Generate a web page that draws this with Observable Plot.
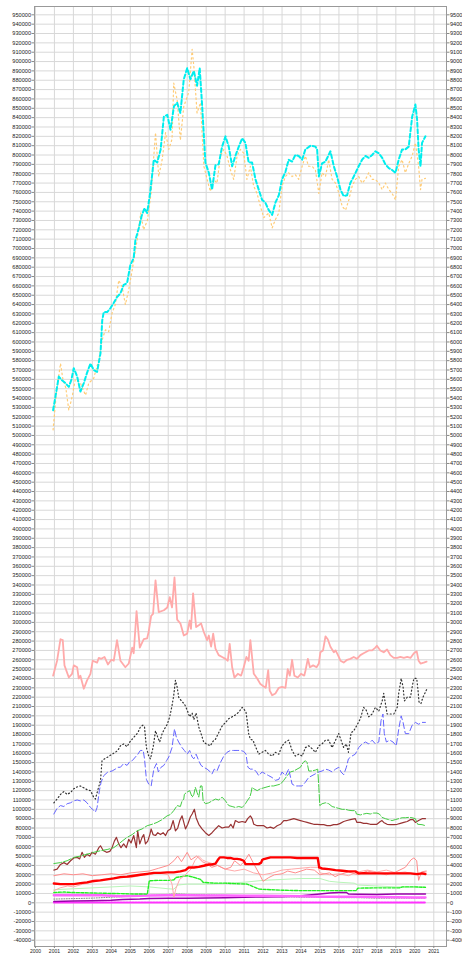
<!DOCTYPE html>
<html><head><meta charset="utf-8">
<script src="https://cdn.jsdelivr.net/npm/d3@7"></script>
<script src="https://cdn.jsdelivr.net/npm/@observablehq/plot@0.6"></script>
<style>html,body{margin:0;padding:0;background:#fff;overflow:hidden;width:462px;height:956px}</style>
</head><body><div id="chart"></div>
<script>
// values in thousands, [year, value]
const cyanSeries = [[2000.93,527],[2001.05,541],[2001.23,563],[2001.4,559],[2001.58,556],[2001.76,552],[2001.9,560],[2002.02,572],[2002.2,563],[2002.37,547],[2002.55,556],[2002.72,567],[2002.9,577],[2003.07,570],[2003.25,568],[2003.43,588],[2003.52,623],[2003.6,632],[2003.78,632],[2003.95,636],[2004.13,642],[2004.3,648],[2004.48,652],[2004.65,661],[2004.83,663],[2005.0,682],[2005.18,690],[2005.27,709],[2005.45,722],[2005.6,735],[2005.75,743],[2005.89,738],[2006.05,760],[2006.24,795],[2006.42,792],[2006.6,806],[2006.77,841],[2006.95,843],[2007.12,827],[2007.3,852],[2007.47,856],[2007.64,845],[2007.82,881],[2008.0,893],[2008.17,881],[2008.35,890],[2008.52,874],[2008.66,893],[2008.79,852],[2008.96,792],[2009.14,781],[2009.31,763],[2009.49,789],[2009.66,790],[2009.84,809],[2010.02,820],[2010.19,809],[2010.37,788],[2010.54,799],[2010.72,809],[2010.9,818],[2011.07,813],[2011.24,792],[2011.42,792],[2011.6,774],[2011.77,763],[2011.95,752],[2012.12,749],[2012.3,741],[2012.48,736],[2012.65,749],[2012.83,757],[2013.0,774],[2013.18,782],[2013.35,795],[2013.53,793],[2013.7,800],[2013.88,799],[2014.06,795],[2014.23,806],[2014.5,810],[2014.76,809],[2014.85,806],[2014.94,777],[2015.11,791],[2015.29,793],[2015.55,804],[2015.73,788],[2015.9,777],[2016.08,763],[2016.25,756],[2016.43,757],[2016.6,770],[2016.78,777],[2017.04,788],[2017.22,795],[2017.4,799],[2017.57,797],[2017.75,800],[2017.92,804],[2018.1,802],[2018.28,797],[2018.45,790],[2018.63,786],[2018.8,784],[2018.98,781],[2019.15,795],[2019.33,806],[2019.5,806],[2019.68,809],[2019.86,841],[2020.03,854],[2020.12,838],[2020.2,806],[2020.3,788],[2020.38,813],[2020.56,820]];
const orangeSeries = [[2000.93,506],[2001.1,545],[2001.32,577],[2001.45,560],[2001.6,551],[2001.76,527],[2001.93,541],[2002.1,560],[2002.37,556],[2002.64,543],[2002.81,556],[2003.07,561],[2003.34,581],[2003.51,602],[2003.69,613],[2003.86,611],[2004.04,631],[2004.21,640],[2004.39,666],[2004.57,659],[2004.74,640],[2004.92,656],[2005.1,677],[2005.36,709],[2005.55,738],[2005.7,720],[2005.9,730],[2006.1,760],[2006.33,824],[2006.5,777],[2006.68,795],[2006.86,824],[2007.03,806],[2007.2,817],[2007.29,877],[2007.47,859],[2007.64,816],[2007.82,852],[2008.08,867],[2008.26,913],[2008.35,895],[2008.52,845],[2008.7,856],[2008.88,788],[2009.05,774],[2009.22,761],[2009.4,774],[2009.57,770],[2009.75,799],[2009.93,806],[2010.1,799],[2010.28,784],[2010.45,774],[2010.63,799],[2010.8,806],[2010.98,802],[2011.15,774],[2011.33,788],[2011.5,767],[2011.68,759],[2011.86,745],[2012.04,733],[2012.3,738],[2012.48,722],[2012.65,731],[2012.83,738],[2013.0,767],[2013.18,777],[2013.35,781],[2013.53,777],[2013.7,779],[2013.88,774],[2014.06,788],[2014.23,799],[2014.4,788],[2014.58,788],[2014.76,784],[2014.94,759],[2015.11,781],[2015.29,777],[2015.46,795],[2015.64,774],[2015.82,770],[2016.0,759],[2016.17,745],[2016.35,741],[2016.52,752],[2016.7,767],[2016.87,774],[2017.04,777],[2017.22,770],[2017.4,774],[2017.57,781],[2017.75,774],[2017.92,774],[2018.1,770],[2018.28,763],[2018.45,770],[2018.63,763],[2018.8,759],[2018.98,752],[2019.15,788],[2019.33,795],[2019.5,781],[2019.68,791],[2019.86,799],[2020.03,813],[2020.2,788],[2020.3,763],[2020.38,774],[2020.56,775]];
const pinkSeries = [[2000.93,243],[2001.14,259],[2001.32,282],[2001.44,281],[2001.53,254],[2001.76,241],[2001.93,245],[2002.02,254],[2002.2,252],[2002.28,240],[2002.37,243],[2002.55,229],[2002.72,238],[2002.9,245],[2003.02,259],[2003.25,257],[2003.34,262],[2003.47,261],[2003.64,263],[2003.82,255],[2004.0,260],[2004.13,259],[2004.3,281],[2004.48,259],[2004.74,252],[2004.92,256],[2005.1,273],[2005.18,267],[2005.33,312],[2005.5,273],[2005.71,282],[2005.89,283],[2005.97,290],[2006.1,307],[2006.2,309],[2006.33,345],[2006.5,311],[2006.77,313],[2006.95,316],[2007.08,327],[2007.2,316],[2007.33,348],[2007.47,303],[2007.64,299],[2007.82,286],[2008.0,288],[2008.13,302],[2008.2,293],[2008.31,331],[2008.47,295],[2008.61,297],[2008.73,299],[2008.87,290],[2009.05,281],[2009.14,286],[2009.26,274],[2009.37,288],[2009.49,272],[2009.66,265],[2009.84,263],[2010.02,261],[2010.14,259],[2010.24,277],[2010.37,252],[2010.49,241],[2010.67,245],[2010.84,243],[2010.98,252],[2011.12,263],[2011.24,259],[2011.33,281],[2011.51,245],[2011.69,240],[2011.86,234],[2012.0,232],[2012.14,230],[2012.27,249],[2012.35,227],[2012.48,222],[2012.65,224],[2012.83,230],[2013.0,231],[2013.18,230],[2013.3,250],[2013.41,243],[2013.53,260],[2013.65,243],[2013.83,241],[2014.0,245],[2014.17,243],[2014.23,248],[2014.36,261],[2014.47,252],[2014.64,254],[2014.82,252],[2014.94,256],[2015.02,268],[2015.16,270],[2015.29,285],[2015.41,282],[2015.55,274],[2015.73,268],[2015.82,270],[2015.95,265],[2016.08,259],[2016.25,257],[2016.43,260],[2016.6,261],[2016.78,263],[2016.95,261],[2017.13,265],[2017.3,267],[2017.57,270],[2017.75,270],[2017.92,273],[2018.0,275],[2018.18,270],[2018.36,268],[2018.54,271],[2018.71,265],[2018.89,262],[2019.07,262],[2019.24,263],[2019.42,262],[2019.6,263],[2019.77,262],[2019.95,267],[2020.1,269],[2020.2,259],[2020.3,256],[2020.47,257],[2020.62,258]];
const blackSeries = [[2000.97,107],[2001.14,111],[2001.32,116],[2001.5,119],[2001.67,116],[2001.85,118],[2002.02,122],[2002.2,124],[2002.37,125],[2002.55,123],[2002.72,121],[2002.9,120],[2003.07,113],[2003.16,111],[2003.28,120],[2003.43,131],[2003.51,152],[2003.64,154],[2003.82,156],[2004.04,159],[2004.21,161],[2004.34,163],[2004.48,168],[2004.65,170],[2004.83,167],[2004.97,172],[2005.1,175],[2005.27,179],[2005.4,182],[2005.53,188],[2005.66,190],[2005.75,188],[2005.85,166],[2005.97,157],[2006.06,154],[2006.2,166],[2006.33,184],[2006.45,177],[2006.55,172],[2006.68,181],[2006.8,186],[2006.95,191],[2007.08,199],[2007.2,211],[2007.29,222],[2007.38,238],[2007.47,231],[2007.55,220],[2007.73,215],[2007.85,213],[2008.0,206],[2008.13,199],[2008.26,203],[2008.35,196],[2008.47,203],[2008.61,188],[2008.73,181],[2008.87,172],[2009.0,170],[2009.22,168],[2009.37,173],[2009.49,175],[2009.66,182],[2009.84,189],[2010.02,193],[2010.19,197],[2010.37,199],[2010.54,201],[2010.72,204],[2010.9,209],[2011.0,207],[2011.1,204],[2011.16,195],[2011.24,181],[2011.33,175],[2011.47,174],[2011.54,170],[2011.69,163],[2011.77,159],[2011.95,161],[2012.12,163],[2012.3,159],[2012.48,157],[2012.65,161],[2012.83,159],[2013.0,168],[2013.18,172],[2013.35,174],[2013.53,163],[2013.7,157],[2013.88,159],[2014.06,157],[2014.23,166],[2014.4,168],[2014.58,165],[2014.76,161],[2014.94,168],[2015.11,170],[2015.29,174],[2015.46,174],[2015.64,166],[2015.82,174],[2015.99,181],[2016.11,174],[2016.25,166],[2016.39,170],[2016.5,161],[2016.64,182],[2016.78,184],[2016.95,190],[2017.13,197],[2017.3,209],[2017.44,206],[2017.57,199],[2017.75,202],[2017.92,209],[2018.1,205],[2018.28,216],[2018.36,224],[2018.54,202],[2018.71,202],[2018.89,202],[2019.07,209],[2019.15,224],[2019.28,240],[2019.38,231],[2019.45,216],[2019.6,220],[2019.77,220],[2019.86,231],[2019.95,240],[2020.1,240],[2020.17,227],[2020.22,215],[2020.32,213],[2020.43,220],[2020.55,225],[2020.62,228]];
const blueSeries = [[2000.97,95],[2001.14,101],[2001.32,104],[2001.5,103],[2001.67,106],[2001.85,107],[2002.02,109],[2002.2,110],[2002.37,109],[2002.55,110],[2002.72,107],[2002.9,102],[2003.07,99],[2003.16,97],[2003.25,102],[2003.37,120],[2003.46,129],[2003.6,136],[2003.82,140],[2004.04,141],[2004.21,143],[2004.34,145],[2004.48,145],[2004.65,149],[2004.83,147],[2004.97,151],[2005.1,152],[2005.27,156],[2005.4,159],[2005.53,163],[2005.68,163],[2005.75,154],[2005.85,132],[2005.97,127],[2006.1,125],[2006.24,143],[2006.38,149],[2006.48,140],[2006.62,145],[2006.77,147],[2006.91,152],[2007.03,156],[2007.2,166],[2007.33,186],[2007.43,177],[2007.55,172],[2007.73,166],[2007.85,163],[2008.0,159],[2008.13,163],[2008.26,156],[2008.35,154],[2008.47,159],[2008.61,152],[2008.73,147],[2008.87,145],[2009.05,143],[2009.22,140],[2009.31,138],[2009.43,143],[2009.57,141],[2009.75,150],[2009.93,157],[2010.1,161],[2010.28,163],[2010.45,163],[2010.63,163],[2010.8,163],[2010.98,162],[2011.1,159],[2011.2,145],[2011.33,143],[2011.51,143],[2011.65,140],[2011.77,136],[2011.95,140],[2012.12,138],[2012.3,136],[2012.48,134],[2012.65,131],[2012.83,132],[2013.0,140],[2013.18,136],[2013.35,143],[2013.53,127],[2013.7,125],[2013.88,125],[2014.06,125],[2014.23,129],[2014.4,134],[2014.58,136],[2014.76,138],[2014.94,140],[2015.11,141],[2015.29,143],[2015.46,142],[2015.64,140],[2015.82,143],[2015.99,145],[2016.11,140],[2016.25,137],[2016.39,145],[2016.5,154],[2016.69,157],[2016.86,159],[2017.04,166],[2017.22,170],[2017.4,172],[2017.57,170],[2017.75,174],[2017.92,170],[2018.1,172],[2018.22,195],[2018.32,202],[2018.39,181],[2018.5,172],[2018.68,174],[2018.85,172],[2019.02,168],[2019.17,188],[2019.28,200],[2019.38,193],[2019.5,181],[2019.68,181],[2019.86,190],[2020.03,193],[2020.2,191],[2020.38,193],[2020.56,193]];
const greenSeries = [[2000.97,42],[2001.32,43],[2001.67,45],[2002.02,48.6],[2002.37,50],[2002.72,52],[2003.07,54],[2003.43,55.7],[2003.78,57],[2004.13,59],[2004.39,63],[2004.57,66],[2004.83,70],[2005.1,73],[2005.36,77],[2005.62,79],[2005.89,82.5],[2006.15,84],[2006.41,86],[2006.68,89],[2006.94,93],[2007.12,94.5],[2007.29,98.6],[2007.47,104],[2007.64,103],[2007.73,109],[2007.82,111],[2007.85,116],[2007.96,118],[2008.13,120],[2008.26,113],[2008.35,116],[2008.43,123.5],[2008.52,118],[2008.61,113],[2008.7,125],[2008.78,125],[2008.84,109],[2008.96,106],[2009.14,107],[2009.31,109],[2009.49,111],[2009.66,110],[2009.84,113],[2010.02,109],[2010.19,104],[2010.37,103],[2010.54,102],[2010.72,103],[2010.9,102],[2011.07,106],[2011.16,109],[2011.3,113],[2011.37,118],[2011.42,123.5],[2011.51,122],[2011.69,120],[2011.86,122],[2012.04,123],[2012.21,124],[2012.39,125],[2012.56,125],[2012.74,126],[2012.92,127],[2013.09,131],[2013.27,136],[2013.44,140],[2013.62,141],[2013.79,143],[2013.97,145],[2014.11,150],[2014.23,152],[2014.32,150],[2014.41,141],[2014.58,141],[2014.76,142],[2014.88,143],[2014.94,123.5],[2014.99,104],[2015.11,106],[2015.29,107],[2015.46,106],[2015.64,103],[2015.82,102],[2015.99,101],[2016.17,100],[2016.34,100],[2016.52,99],[2016.69,98.6],[2016.87,98.6],[2016.92,95],[2017.13,94],[2017.3,95],[2017.47,95.7],[2017.65,95],[2017.82,96],[2018.0,96],[2018.13,95],[2018.27,91.4],[2018.45,90],[2018.62,89],[2018.8,88],[2018.97,89],[2019.15,90],[2019.33,91],[2019.5,91],[2019.68,91.4],[2019.85,91],[2020.03,90],[2020.15,84],[2020.38,83.6],[2020.56,82.5]];
const brownSeries = [[2000.97,35],[2001.14,36],[2001.32,41],[2001.5,43],[2001.67,41],[2001.85,45],[2002.02,48],[2002.2,48.6],[2002.33,47],[2002.46,54],[2002.58,48.6],[2002.72,52],[2002.86,50],[2002.98,54],[2003.16,52],[2003.34,59],[2003.43,61],[2003.57,56],[2003.75,54],[2003.92,55],[2004.04,59],[2004.16,66],[2004.27,70],[2004.39,63],[2004.51,59],[2004.65,63],[2004.79,59],[2004.92,68],[2005.04,64],[2005.18,72],[2005.32,59],[2005.39,77],[2005.5,63],[2005.62,70],[2005.71,73],[2005.8,63],[2005.92,66],[2006.03,73],[2006.1,79],[2006.2,73],[2006.33,72],[2006.45,75],[2006.59,73],[2006.73,75],[2006.86,72],[2006.98,77],[2007.12,79],[2007.26,88],[2007.38,77],[2007.5,80],[2007.61,88],[2007.73,93],[2007.82,86],[2007.91,79],[2008.03,84],[2008.17,92],[2008.26,95],[2008.38,100],[2008.47,91],[2008.61,84],[2008.78,79],[2008.96,75],[2009.14,72],[2009.31,75],[2009.49,79],[2009.66,82.5],[2009.84,80],[2010.02,81],[2010.19,81],[2010.3,84],[2010.42,80],[2010.54,88],[2010.72,86],[2010.9,87],[2011.07,86],[2011.19,90],[2011.33,93],[2011.42,90],[2011.51,84],[2011.69,82.5],[2011.86,82.5],[2012.04,82.5],[2012.21,80],[2012.39,81],[2012.56,79.6],[2012.74,82.5],[2012.92,84],[2013.09,88],[2013.27,88],[2013.44,89],[2013.62,90],[2013.79,89],[2013.97,88],[2014.14,87],[2014.32,86],[2014.5,85],[2014.67,84],[2014.85,84],[2015.02,83.6],[2015.2,83.6],[2015.37,82.5],[2015.55,82.5],[2015.72,83.6],[2015.9,83.6],[2016.07,85],[2016.25,87],[2016.42,88],[2016.6,89],[2016.86,90],[2016.95,86],[2017.13,86],[2017.3,85],[2017.47,85],[2017.65,84],[2017.82,84],[2018.0,84],[2018.18,87],[2018.27,88],[2018.36,86],[2018.54,84],[2018.71,83.6],[2018.89,83.6],[2019.07,84],[2019.24,85],[2019.42,86],[2019.6,87],[2019.77,89],[2019.91,89],[2020.03,86],[2020.2,88],[2020.38,90],[2020.56,90]];
const redSeries = [[2000.97,20.7],[2001.32,20],[2001.67,20],[2002.02,20],[2002.37,21],[2002.72,21.8],[2003.07,23.4],[2003.43,24],[2003.78,25],[2004.13,26.1],[2004.48,27.5],[2004.83,28],[2005.18,29],[2005.53,30],[2005.89,31],[2006.24,32],[2006.59,32],[2006.94,32.5],[2007.29,32.5],[2007.64,33.6],[2007.91,35],[2008.08,37.8],[2008.35,37.8],[2008.61,38.5],[2008.87,39.6],[2009.14,41],[2009.31,41],[2009.49,42],[2009.61,45.7],[2009.72,48.6],[2009.93,48.6],[2010.1,48],[2010.28,48],[2010.45,47],[2010.63,47],[2010.8,46.5],[2010.98,45],[2011.07,41.4],[2011.25,41.4],[2011.51,41.4],[2011.77,41.4],[2011.9,43],[2011.95,45.7],[2012.04,46.8],[2012.39,48.6],[2012.74,48.6],[2013.09,48.6],[2013.44,48.6],[2013.79,48],[2014.14,48],[2014.5,48],[2014.88,48],[2014.96,37.8],[2015.11,36.7],[2015.46,36],[2015.82,35],[2016.17,34.3],[2016.52,33.6],[2016.87,33.6],[2017.04,31.5],[2017.3,31.8],[2017.65,31.5],[2018.0,31.5],[2018.36,31.5],[2018.71,31.5],[2019.07,31.5],[2019.42,31.5],[2019.77,31.5],[2020.12,30.7],[2020.38,31.5],[2020.56,30.7]];
const salmonA = [[2000.97,29],[2001.5,31],[2002,30],[2002.5,31],[2003,29],[2003.5,30],[2004,31],[2004.5,30],[2005,32],[2005.5,33],[2006,34],[2006.5,37],[2007,40],[2007.3,45],[2007.5,50],[2007.7,44],[2008,54],[2008.2,46],[2008.5,50],[2008.8,44],[2009,42],[2009.3,38],[2009.6,40],[2010,36],[2010.3,38],[2010.5,45],[2010.8,40],[2011,44],[2011.25,52],[2011.5,42],[2011.8,31],[2012,23],[2012.3,27],[2012.6,30],[2013,31],[2013.3,34],[2013.7,32],[2014,34],[2014.3,36],[2014.7,35],[2015,30],[2015.5,32],[2015.8,28],[2016,30],[2016.5,33],[2017,30],[2017.5,34],[2018,32],[2018.5,30],[2019,33],[2019.5,38],[2019.8,46],[2019.95,48],[2020.1,45],[2020.2,24],[2020.35,33],[2020.6,34]];
const salmonB = [[2000.97,13],[2001.3,16],[2001.7,18],[2002,17],[2002.5,20],[2003,22],[2003.5,25],[2004,26],[2004.5,28],[2005,27],[2005.5,29],[2006,30],[2006.5,32],[2007,30],[2007.2,20],[2007.3,6],[2007.4,15],[2007.6,25],[2007.9,30],[2008.2,36],[2008.4,45],[2008.6,50],[2008.8,46],[2009,44],[2009.5,41],[2010,36],[2010.5,34],[2011,36],[2011.5,32],[2012,30],[2012.5,32],[2013,35],[2013.5,36],[2014,37],[2014.5,38],[2014.9,38],[2015,32],[2015.5,30],[2016,31],[2016.5,29],[2017,33],[2017.5,35],[2018,33],[2018.5,35],[2019,32],[2019.5,33],[2020,30],[2020.6,33]];
const brightGreen = [[2000.97,11],[2001.5,11.5],[2002,11],[2002.5,10.8],[2003,10.5],[2003.5,10.3],[2004,10],[2004.5,9.8],[2005,9.5],[2005.5,9.4],[2005.9,9.3],[2006.0,23.6],[2006.5,24],[2007.0,24],[2007.3,24.5],[2007.4,27],[2007.7,28],[2008.0,29],[2008.4,27],[2008.7,25],[2008.85,21.8],[2009.5,21],[2010,21],[2010.5,20.5],[2011.16,20],[2011.8,14.6],[2012.4,14],[2013,13.5],[2014,13],[2015,13],[2016,13],[2016.9,13],[2017.0,15.7],[2018,16],[2019.2,16],[2019.35,17],[2020,17],[2020.56,16.5]];
const lightGreen = [[2000.97,14],[2002,15],[2003,16],[2004,17],[2005,18],[2006,17],[2007,15],[2007.3,14.6],[2007.5,19],[2008,20],[2009,20],[2010,21],[2011,22],[2012,24],[2013,25],[2014,26],[2015,26],[2015.5,23],[2016,22],[2016.8,21],[2017,19],[2018,18],[2019,17],[2020,17],[2020.56,17]];
const magentaThick = [[2000.97,8.2],[2002,8.2],[2003,8],[2003.5,8],[2004,7.5],[2004.5,7],[2005,7.2],[2006,7.8],[2007,8],[2008,8],[2009,7.8],[2010,7.8],[2011,7.6],[2012,7.5],[2013,7.2],[2014,7],[2015,6.5],[2016,6.5],[2017,6.5],[2018,6.2],[2019,6],[2020,5.8],[2020.56,5.8]];
const purpleSeries = [[2000.97,1.5],[2002,1.8],[2003,2.2],[2004,2.8],[2004.6,3.6],[2005.5,4],[2006,4.6],[2007,5],[2008,5],[2009,5.2],[2010,5.5],[2011,6],[2012,6.2],[2013,6.5],[2014,7.5],[2015,9.5],[2015.5,10.5],[2016,11],[2016.4,11],[2016.5,9.5],[2017,9.2],[2018,9],[2019,9.5],[2020,9.3],[2020.56,9.3]];
const graySeries = [[2000.97,4],[2002,4.5],[2003,5],[2004,6],[2005,7],[2006,8],[2007,9],[2007.4,9.5],[2008,9],[2009,8.5],[2010,8],[2011,7.5],[2012,7],[2013,6.5],[2014,6],[2015,6],[2016,5.5],[2017,5.5],[2018,5],[2019,5],[2020,5],[2020.56,5]];
const magentaBottom = [[2000.97,0.3],[2005,0.3],[2010,0.4],[2015,0.4],[2020.56,0.4]];

const yTicks = d3.range(-40000, 950001, 10000);
const xTicks = d3.range(2000, 2022);

const series = [
  {data: magentaBottom, stroke: "#ff33ff", w: 2, dash: "2,1"},
  {data: graySeries, stroke: "#8a8a8a", w: 1, dash: "1,1.5"},
  {data: purpleSeries, stroke: "#9900aa", w: 1.5, dash: null},
  {data: magentaThick, stroke: "#ff66ff", w: 2.5, dash: null},
  {data: lightGreen, stroke: "#b8f5b8", w: 1, dash: null},
  {data: brightGreen, stroke: "#22ee22", w: 1.4, dash: "3,1.5"},
  {data: salmonB, stroke: "#ffaaaa", w: 1, dash: null},
  {data: salmonA, stroke: "#ff8c8c", w: 1, dash: null},
  {data: redSeries, stroke: "#ff0000", w: 2.4, dash: null},
  {data: brownSeries, stroke: "#993333", w: 1.2, dash: null},
  {data: greenSeries, stroke: "#44cc44", w: 1, dash: "8,2"},
  {data: blueSeries, stroke: "#6666ff", w: 1, dash: "6,3"},
  {data: blackSeries, stroke: "#333333", w: 1.2, dash: "1,2.5"},
  {data: pinkSeries, stroke: "#ffaaaa", w: 1.8, dash: null},
  {data: orangeSeries, stroke: "#ffcc77", w: 1.2, dash: "1.5,3"},
  {data: cyanSeries, stroke: "#00eeee", w: 2, dash: "4,2.5"}
];

const fmt = d => String(d);

const chart = Plot.plot({
  width: 462, height: 956,
  marginLeft: 34, marginRight: 16, marginTop: 6, marginBottom: 10,
  style: {fontFamily: "Liberation Sans, sans-serif", fontSize: "5.6px", background: "white", color: "#222"},
  x: {domain: [1999.95, 2021.67]},
  y: {domain: [-46750, 958900]},
  marks: [
    Plot.gridY(yTicks, {stroke: "#d8d8d8", strokeOpacity: 1}),
    Plot.gridX(xTicks, {stroke: "#d8d8d8", strokeOpacity: 1}),
    Plot.frame({stroke: "#999"}),
    Plot.axisY(yTicks, {anchor: "left", tickSize: 2.5, tickPadding: 1, tickFormat: fmt, label: null, stroke: "#888"}),
    Plot.axisY(yTicks, {anchor: "right", tickSize: 2.5, tickPadding: 1, tickFormat: fmt, label: null, stroke: "#888"}),
    Plot.axisX(xTicks, {anchor: "bottom", tickSize: 2, tickPadding: 1, tickFormat: fmt, label: null, fontSize: 5, stroke: "#888"}),
    ...series.map(s => Plot.line(s.data, {x: d => d[0], y: d => d[1] * 1000, stroke: s.stroke, strokeWidth: s.w, strokeDasharray: s.dash}))
  ]
});
document.getElementById("chart").appendChild(chart);
</script>
</body></html>
